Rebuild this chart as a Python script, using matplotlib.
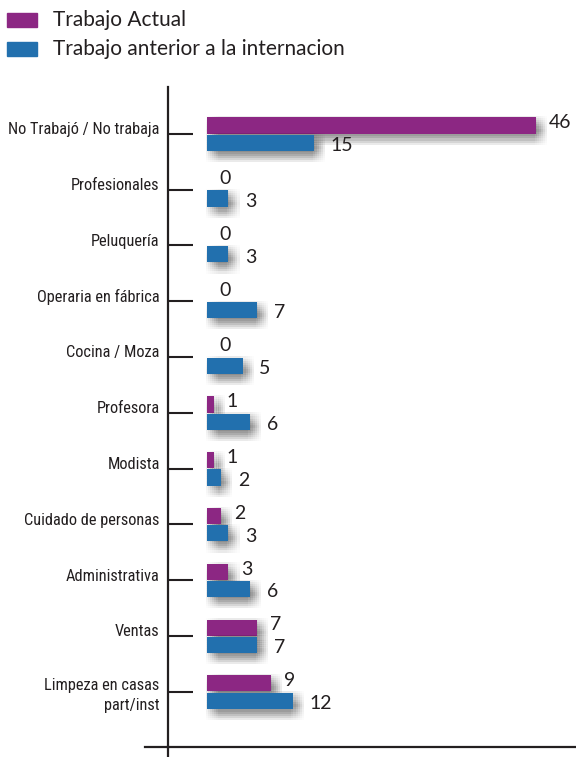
import matplotlib.pyplot as plt
import matplotlib.patheffects as pe
from matplotlib.patches import Rectangle
from matplotlib.lines import Line2D
from matplotlib import font_manager

# data, top to bottom
categories = ["No Trabajó / No trabaja", "Profesionales", "Peluquería",
              "Operaria en fábrica", "Cocina / Moza", "Profesora", "Modista",
              "Cuidado de personas", "Administrativa", "Ventas",
              "Limpeza en casas\npart/inst"]
actual = [46, 0, 0, 0, 0, 1, 1, 2, 3, 7, 9]
anterior = [15, 3, 3, 7, 5, 6, 2, 3, 6, 7, 12]
series_names = ["Trabajo Actual", "Trabajo anterior a la internacion"]

purple = "#8C2783"
blue = "#2270AE"
ink = "#231F20"

# narrow font for the category names if one is around
names = {f.name for f in font_manager.fontManager.ttflist}
narrow = "DejaVu Sans"
for cand in ["Liberation Sans Narrow", "DejaVu Sans Condensed", "Roboto Condensed"]:
    if cand in names:
        narrow = cand
        break

fig = plt.figure(figsize=(5.76, 7.57), dpi=100)
ax = fig.add_axes([168 / 576, 1 - 747 / 757, 408 / 576, (747 - 87) / 757])

# soft drop shadow: many faint offset copies approximate a blur
steps = [-1, 0.5, 2, 3.5, 5, 6.5, 8]
shadow = [pe.SimplePatchShadow(offset=(dx, -dy), shadow_rgbFace="black", alpha=0.012)
          for dx in steps for dy in steps]
shadow.append(pe.Normal())

pos = list(range(len(categories)))
h = 0.29
ax.barh([p - 0.15 for p in pos], actual, height=h, color=purple, path_effects=shadow)
ax.barh([p + 0.16 for p in pos], anterior, height=h, color=blue, path_effects=shadow)

for p, a, b in zip(pos, actual, anterior):
    ax.annotate(str(a), (a, p - 0.15), xytext=(9, 2), textcoords="offset points",
                ha="left", va="center", fontsize=14, family="Lato", color=ink)
    ax.annotate(str(b), (b, p + 0.16), xytext=(12, -2), textcoords="offset points",
                ha="left", va="center", fontsize=14, family="Lato", color=ink)

ax.set_xlim(-5.45, 51.6)
ax.set_ylim(10.99, -0.84)
ax.set_yticks(pos)
ax.set_yticklabels([])
ax.set_xticks([])
ax.tick_params(axis="y", direction="in", length=18, width=1.5, color=ink)

# category labels
for p, c in zip(pos, categories):
    va = "top" if "\n" in c else "center"
    dy = 10 if "\n" in c else 3
    ax.annotate(c, (0, p), xycoords=("axes fraction", "data"), xytext=(-6, dy),
                textcoords="offset points", ha="right", va=va, fontsize=11.8,
                family=narrow, fontstretch="condensed", color=ink, linespacing=1.4)

for s in ["top", "right"]:
    ax.spines[s].set_visible(False)
for s in ["left", "bottom"]:
    ax.spines[s].set_linewidth(1.6)
    ax.spines[s].set_color(ink)

# axis lines running past the corner
fig.add_artist(Line2D([145 / 576, 168 / 576], [1 - 747 / 757] * 2, color=ink, lw=1.6))
fig.add_artist(Line2D([168 / 576] * 2, [0, 1 - 747 / 757], color=ink, lw=1.6))

# legend
for i, (name, col) in enumerate(zip(series_names, [purple, blue])):
    y0 = 757 - 27 - i * 29
    fig.add_artist(Rectangle((7 / 576, y0 / 757), 30 / 576, 14 / 757,
                             transform=fig.transFigure, color=col))
    fig.text(53 / 576, (y0 + 7) / 757, name, ha="left", va="center",
             fontsize=15, family="Lato", color=ink)

fig.savefig("out.png", dpi=100)
